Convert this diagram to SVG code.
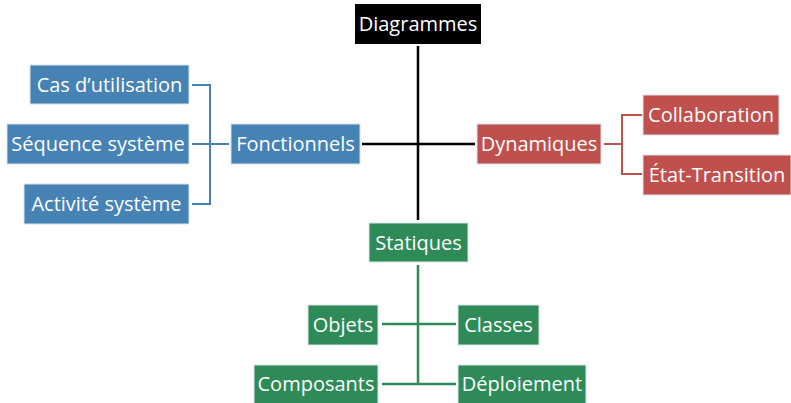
<svg xmlns="http://www.w3.org/2000/svg" width="791" height="403" viewBox="0 0 791 403">
  <style>
    .box { stroke: #d9e2ea; stroke-width: 1; }
    .root { fill: #000000; }
    .blue { fill: #4682b4; }
    .red { fill: #c0504d; }
    .green { fill: #2e8b57; }
    text { font-family: "Open Sans", "Noto Sans", sans-serif; font-size: 20px; font-weight: 500; fill: #ffffff; text-anchor: middle; dominant-baseline: central; }
    .wire { fill: none; stroke-linecap: butt; }
    .w-black { stroke: #000000; stroke-width: 2.5; }
    .w-blue { stroke: #4682b4; stroke-width: 2; }
    .w-red { stroke: #c0504d; stroke-width: 2; }
    .w-green { stroke: #2e8b57; stroke-width: 2.5; }
  </style>

  <!-- connectors -->
  <g id="connectors">
    <path class="wire w-black" d="M418 46 V220 M362 144 H475"/>
    <path class="wire w-blue" d="M192 85 H210 V204 H192 M192 144 H229"/>
    <path class="wire w-red" d="M604 144 H622 M642 115 H622 V174 H642"/>
    <path class="wire w-green" d="M418 265 V384 M382 324 H456 M382 384 H456"/>
  </g>

  <g id="diagrammes">
    <rect class="root" x="355" y="4" width="126" height="40"/>
    <text x="418" y="23.5">Diagrammes</text>
  </g>

  <g id="fonctionnels">
    <rect class="box blue" x="231" y="124" width="129" height="40"/>
    <text x="295.5" y="143.5">Fonctionnels</text>
  </g>
  <g id="cas-utilisation">
    <rect class="box blue" x="30" y="65" width="159" height="39"/>
    <text x="109.5" y="84">Cas d’utilisation</text>
  </g>
  <g id="sequence-systeme">
    <rect class="box blue" x="7" y="124" width="182" height="40"/>
    <text x="98" y="143.5">Séquence système</text>
  </g>
  <g id="activite-systeme">
    <rect class="box blue" x="24" y="184" width="165" height="40"/>
    <text x="106.5" y="203.5">Activité système</text>
  </g>

  <g id="dynamiques">
    <rect class="box red" x="477" y="124" width="124" height="40"/>
    <text x="539" y="143.5">Dynamiques</text>
  </g>
  <g id="collaboration">
    <rect class="box red" x="643" y="95" width="136" height="40"/>
    <text x="711" y="114.5">Collaboration</text>
  </g>
  <g id="etat-transition">
    <rect class="box red" x="643" y="155" width="148" height="40"/>
    <text x="717" y="174.5">État-Transition</text>
  </g>

  <g id="statiques">
    <rect class="box green" x="369" y="223" width="99" height="39"/>
    <text x="418.5" y="242">Statiques</text>
  </g>
  <g id="objets">
    <rect class="box green" x="308" y="305" width="70" height="40"/>
    <text x="343" y="324.5">Objets</text>
  </g>
  <g id="classes">
    <rect class="box green" x="458" y="305" width="81" height="40"/>
    <text x="498.5" y="324.5">Classes</text>
  </g>
  <g id="composants">
    <rect class="box green" x="254" y="365" width="124" height="39"/>
    <text x="316" y="383.5">Composants</text>
  </g>
  <g id="deploiement">
    <rect class="box green" x="458" y="365" width="128" height="39"/>
    <text x="522" y="383.5">Déploiement</text>
  </g>
</svg>
